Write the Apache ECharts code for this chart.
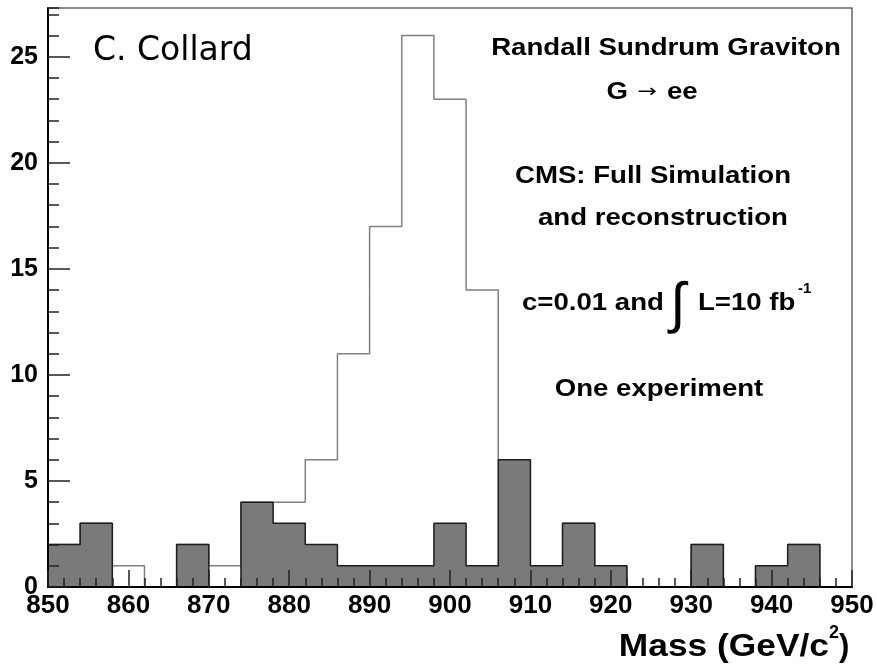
<!DOCTYPE html>
<html><head><meta charset="utf-8">
<script src="https://cdn.jsdelivr.net/npm/echarts@6/dist/echarts.min.js"></script>
<style>html,body{margin:0;padding:0;background:#fff;}#c{width:877px;height:669px;}</style>
</head><body><div id="c"></div>
<script>
// Bin left edges (GeV/c^2), width 4
const binLeft = [850,854,858,862,866,870,874,878,882,886,890,894,898,902,906,910,914,918,922,926,930,934,938,942,946];
const binWidth = 4;
// Open histogram: signal + background
const signalPlusBkg = [2,3,1,0,2,1,4,4,6,11,17,26,23,14,6,1,3,1,0,0,2,0,1,2,0];
// Filled histogram: background
const background = [2,3,0,0,2,0,4,3,2,1,1,1,3,1,6,1,3,1,0,0,2,0,1,2,0];
const xMin = 850, xMax = 950, xStep = 10;
const yMin = 0, yMax = 27.3, yStep = 5;

function stepData(vals) {
  const d = binLeft.map((x, i) => [x, vals[i]]);
  d.push([binLeft[binLeft.length - 1] + binWidth, vals[vals.length - 1]]);
  return d;
}

const SANS = "'Liberation Sans', Arial, Helvetica, sans-serif";
const chart = echarts.init(document.getElementById('c'), null, {renderer: 'canvas'});

function t(x, y, text, font, align, opts) {
  return Object.assign({
    type: 'text', x: x, y: y, z: 20, silent: true,
    style: {text: text, x: 0, y: 0, font: font, fill: '#000',
      textAlign: align, align: align, textVerticalAlign: 'middle', verticalAlign: 'middle'}
  }, opts || {});
}
const B24 = "bold 24px " + SANS;
const SX = {scaleX: 1.15};

const tickStyle = {color: '#222', width: 1.5};
chart.setOption({
  animation: false,
  grid: {left: 48, right: 25, top: 8, bottom: 82, show: true, borderColor: '#666', borderWidth: 1.5,
    backgroundColor: 'transparent', containLabel: false, outerBoundsMode: 'none'},
  xAxis: {
    type: 'value', min: xMin, max: xMax, interval: xStep, z: 10,
    axisLine: {show: true, onZero: false, lineStyle: {color: '#000', width: 2}},
    axisTick: {show: true, inside: true, length: 17, lineStyle: tickStyle},
    minorTick: {show: true, splitNumber: 5, length: 9, lineStyle: tickStyle},
    axisLabel: {show: true, margin: 6, fontFamily: SANS, fontWeight: 'bold', fontSize: 26, color: '#000',
      showMinLabel: true, showMaxLabel: true, hideOverlap: false},
    splitLine: {show: false}, minorSplitLine: {show: false}
  },
  yAxis: [
    {
      type: 'value', position: 'left', min: yMin, max: yMax, interval: yStep, z: 10,
      axisLine: {show: true, onZero: false, lineStyle: {color: '#000', width: 2}},
      axisTick: {show: true, inside: true, length: 22, lineStyle: tickStyle},
      axisLabel: {show: true, margin: 10, fontFamily: SANS, fontWeight: 'bold', fontSize: 25, color: '#000',
        showMaxLabel: false, formatter: v => (Math.abs(v % yStep) < 1e-9 ? String(v) : '')},
      splitLine: {show: false}
    },
    {
      type: 'value', position: 'left', min: yMin, max: yMax, interval: 1, z: 10,
      axisLine: {show: false},
      axisTick: {show: true, inside: true, length: 11, lineStyle: tickStyle},
      axisLabel: {show: false},
      splitLine: {show: false}
    }
  ],
  series: [
    {
      type: 'line', step: 'end', data: stepData(signalPlusBkg), symbol: 'none', silent: true, z: 2,
      lineStyle: {color: '#808080', width: 1.5}
    },
    {
      type: 'line', step: 'end', data: stepData(background), symbol: 'none', silent: true, z: 3,
      lineStyle: {color: '#1e1e1e', width: 1.5},
      areaStyle: {color: '#7a7a7a', opacity: 1, origin: 'start'}
    }
  ],
  graphic: [
    t(93, 51, 'C. Collard', "33px 'DejaVu Sans', sans-serif", 'left'),
    t(666, 48.5, 'Randall Sundrum Graviton', B24, 'center', SX),
    t(628, 92.5, 'G', B24, 'right', SX),
    t(647, 92, '\u2192', "18px 'DejaVu Sans', sans-serif", 'center', {scaleX: 1.3}),
    t(667, 92.5, 'ee', B24, 'left', SX),
    t(653, 176.5, 'CMS: Full Simulation', B24, 'center', SX),
    t(663, 218.5, 'and reconstruction', B24, 'center', SX),
    t(522, 303, 'c=0.01 and', B24, 'left', SX),
    t(678, 307, '\u222B', "56px " + SANS, 'center'),
    t(698, 303, 'L=10 fb', B24, 'left', SX),
    t(798, 289, '-1', "bold 15px " + SANS, 'left'),
    t(659, 389, 'One experiment', B24, 'center', SX),
    t(829, 647, 'Mass (GeV/c', "bold 31px " + SANS, 'right', {scaleX: 1.14}),
    t(829, 633, '2', "bold 18px " + SANS, 'left'),
    t(839, 647, ')', "bold 31px " + SANS, 'left')
  ]
});
</script></body></html>
